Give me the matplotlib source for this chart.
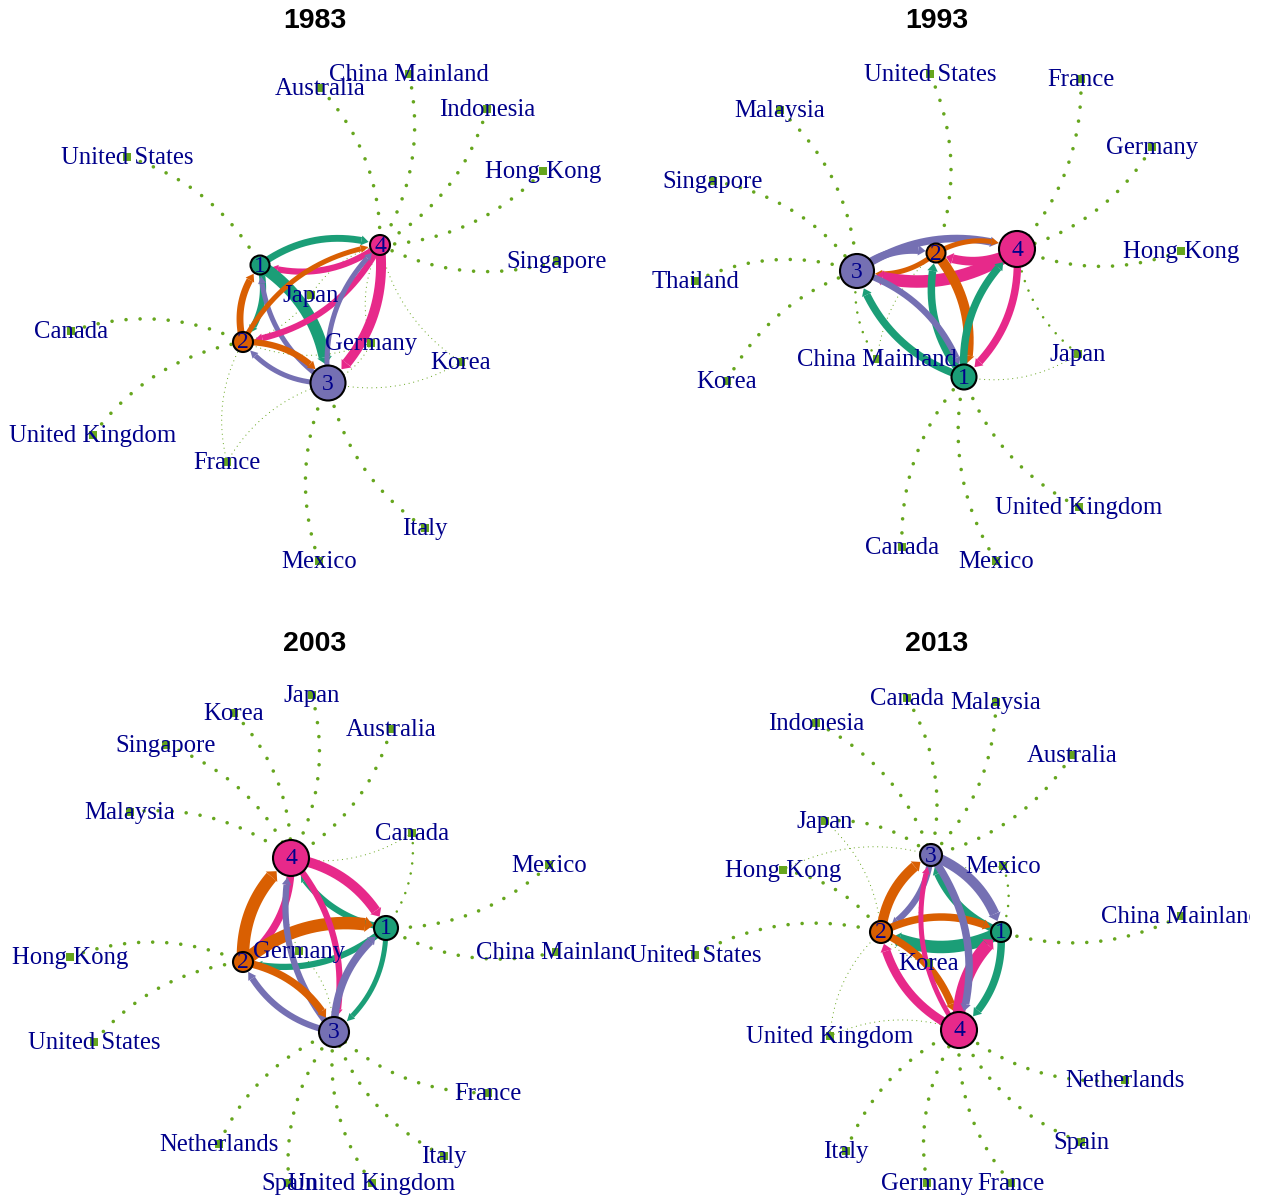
import numpy as np
import matplotlib.pyplot as plt
from matplotlib.patches import Circle, Polygon

# Dark2 colours for the four communities, green for the countries
hub_colors = ["#1B9E77", "#D95F02", "#7570B3", "#E7298A"]
country_color = "#66A61E"
label_color = "#00008B"

years = ["1983", "1993", "2003", "2013"]

# ---------------- 1983 ----------------
hubs_1983 = [(260, 265), (243, 342), (328, 383), (380, 245)]
hub_size_1983 = [9.5, 10, 17.5, 10]
countries_1983 = ["United States", "Australia", "China Mainland", "Indonesia", "Hong Kong",
                  "Singapore", "Canada", "Japan", "Germany", "Korea", "United Kingdom",
                  "France", "Italy", "Mexico"]
country_xy_1983 = [(127, 157), (320, 88), (409, 74), (487, 109), (543, 171), (557, 261),
                   (71, 331), (311, 295), (371, 343), (461, 362), (93, 435), (227, 462),
                   (425, 528), (319, 561)]
# (country, community, strength)
links_1983 = [("United States", 1, 3), ("Australia", 4, 3), ("China Mainland", 4, 3),
              ("Indonesia", 4, 3), ("Hong Kong", 4, 3), ("Singapore", 4, 3),
              ("Canada", 2, 3), ("United Kingdom", 2, 3), ("Japan", 4, 1), ("Japan", 2, 1),
              ("Germany", 3, 1), ("Germany", 2, 1), ("Germany", 4, 1), ("Korea", 3, 1),
              ("Korea", 4, 1), ("France", 2, 1), ("France", 3, 1), ("Italy", 3, 3),
              ("Mexico", 3, 3)]
# (from, to, width)
flows_1983 = [(1, 4, 5.5), (4, 1, 5), (1, 2, 5), (2, 1, 5.5), (1, 3, 9.5), (3, 1, 4),
              (2, 4, 4), (4, 2, 5), (2, 3, 5), (3, 2, 4), (3, 4, 4), (4, 3, 8)]

# ---------------- 1993 ----------------
hubs_1993 = [(964, 377), (936, 253), (857, 271), (1017, 249)]
hub_size_1993 = [12.5, 9.5, 17, 18]
countries_1993 = ["United States", "France", "Malaysia", "Germany", "Singapore", "Hong Kong",
                  "Thailand", "China Mainland", "Japan", "Korea", "United Kingdom", "Canada",
                  "Mexico"]
country_xy_1993 = [(930, 74), (1081, 79), (780, 110), (1152, 147), (713, 181), (1181, 251),
                   (695, 281), (877, 359), (1078, 354), (727, 381), (1079, 507), (902, 547),
                   (996, 561)]
links_1993 = [("United States", 2, 3), ("France", 4, 3), ("Germany", 4, 3), ("Hong Kong", 4, 3),
              ("Malaysia", 3, 3), ("Singapore", 3, 3), ("Thailand", 3, 3), ("Korea", 3, 3),
              ("China Mainland", 3, 2), ("China Mainland", 2, 1), ("Japan", 4, 2),
              ("Japan", 1, 1), ("United Kingdom", 1, 3), ("Canada", 1, 3), ("Mexico", 1, 3)]
flows_1993 = [(3, 2, 6), (2, 3, 4), (3, 4, 6), (4, 3, 10), (2, 4, 4), (4, 2, 7),
              (1, 2, 6), (2, 1, 8), (1, 3, 6), (3, 1, 5), (1, 4, 6), (4, 1, 6)]

# ---------------- 2003 ----------------
hubs_2003 = [(386, 928), (243, 962), (334, 1032), (291, 858)]
hub_size_2003 = [12, 10, 15, 18]
countries_2003 = ["Japan", "Korea", "Australia", "Singapore", "Malaysia", "Canada", "Mexico",
                  "China Mainland", "Hong Kong", "Germany", "United States", "France",
                  "Netherlands", "Italy", "Spain", "United Kingdom"]
country_xy_2003 = [(312, 695), (234, 713), (391, 729), (166, 745), (130, 812), (412, 833),
                   (549, 865), (556, 952), (70, 957), (299, 951), (94, 1042), (488, 1093),
                   (219, 1144), (444, 1156), (289, 1183), (372, 1183)]
links_2003 = [("Japan", 4, 3), ("Korea", 4, 3), ("Australia", 4, 3), ("Singapore", 4, 3),
              ("Malaysia", 4, 3), ("Canada", 4, 1), ("Canada", 1, 2), ("Mexico", 1, 3),
              ("China Mainland", 1, 3), ("Hong Kong", 2, 3), ("United States", 2, 3),
              ("Germany", 4, 1), ("Germany", 3, 1), ("France", 3, 3), ("Netherlands", 3, 3),
              ("Italy", 3, 3), ("Spain", 3, 3), ("United Kingdom", 3, 3)]
flows_2003 = [(2, 4, 10), (4, 2, 6), (4, 1, 8), (1, 4, 5), (2, 1, 10), (1, 2, 5),
              (4, 3, 5), (3, 4, 5), (2, 3, 6), (3, 2, 5), (1, 3, 4), (3, 1, 6)]

# ---------------- 2013 ----------------
hubs_2013 = [(1001, 932), (881, 932), (931, 855), (959, 1030)]
hub_size_2013 = [10, 11, 11, 18]
countries_2013 = ["Canada", "Malaysia", "Indonesia", "Australia", "Japan", "Mexico",
                  "Hong Kong", "China Mainland", "United States", "Korea", "United Kingdom",
                  "Netherlands", "Spain", "Italy", "Germany", "France"]
country_xy_2013 = [(907, 698), (996, 702), (816, 723), (1072, 755), (825, 821), (1003, 866),
                   (783, 870), (1181, 916), (695, 955), (929, 963), (830, 1036), (1125, 1080),
                   (1081, 1142), (846, 1151), (927, 1183), (1011, 1183)]
links_2013 = [("Canada", 3, 3), ("Malaysia", 3, 3), ("Indonesia", 3, 3), ("Australia", 3, 3),
              ("Japan", 3, 3), ("Japan", 2, 1), ("Hong Kong", 2, 3), ("Hong Kong", 3, 1),
              ("United States", 2, 3), ("China Mainland", 1, 3), ("Mexico", 1, 2),
              ("Mexico", 3, 1), ("Korea", 2, 1), ("Korea", 3, 1), ("United Kingdom", 2, 1),
              ("United Kingdom", 4, 1), ("Netherlands", 4, 3), ("Spain", 4, 3),
              ("Italy", 4, 3), ("Germany", 4, 3), ("France", 4, 3)]
flows_2013 = [(2, 3, 8), (3, 2, 5), (3, 1, 8), (1, 3, 6), (2, 1, 6), (1, 2, 10),
              (2, 4, 6), (4, 2, 7), (1, 4, 6), (4, 1, 10), (3, 4, 6), (4, 3, 4)]

panels = [
    (years[0], hubs_1983, hub_size_1983, countries_1983, country_xy_1983, links_1983, flows_1983),
    (years[1], hubs_1993, hub_size_1993, countries_1993, country_xy_1993, links_1993, flows_1993),
    (years[2], hubs_2003, hub_size_2003, countries_2003, country_xy_2003, links_2003, flows_2003),
    (years[3], hubs_2013, hub_size_2013, countries_2013, country_xy_2013, links_2013, flows_2013),
]

W, H = 1261, 1198
boxes = [(0, 0, 630, 610), (630, 0, 1250, 610), (0, 610, 630, 1198), (630, 610, 1250, 1198)]
title_xy = [(315, 21), (937, 21), (315, 644), (937, 644)]
PX = 0.72  # points per pixel at dpi 100


def curve(p0, p2, rad, n=160):
    p0 = np.asarray(p0, float)
    p2 = np.asarray(p2, float)
    d = p2 - p0
    c = (p0 + p2) / 2 + rad * np.array([d[1], -d[0]])
    t = np.linspace(0, 1, n)[:, None]
    return (1 - t) ** 2 * p0 + 2 * (1 - t) * t * c + t ** 2 * p2


fig = plt.figure(figsize=(W / 100, H / 100), dpi=100)

for (year, hubs, sizes, names, cxy, links, flows), box, txy in zip(panels, boxes, title_xy):
    x0, y0, x1, y1 = box
    ax = fig.add_axes([x0 / W, 1 - y1 / H, (x1 - x0) / W, (y1 - y0) / H])
    ax.set_xlim(x0, x1)
    ax.set_ylim(y1, y0)
    ax.axis("off")

    pos = dict(zip(names, cxy))

    # dotted membership links country -> community
    for name, hub, s in links:
        pts = curve(pos[name], hubs[hub - 1], 0.2)
        lw = {3: 3.6, 2: 2.6, 1: 1.2}[s]
        ax.plot(pts[:, 0], pts[:, 1], color=country_color, lw=lw * PX,
                linestyle=(0, (0.01, 3.9)), dash_capstyle="round", zorder=1)

    # flows between communities
    for a, b, w in flows:
        col = hub_colors[a - 1]
        w = w * 1.25
        tgt = np.array(hubs[b - 1], float)
        pts = curve(hubs[a - 1], tgt, 0.25)
        dist = np.hypot(*(pts - tgt).T)
        pts = pts[dist > sizes[b - 1] + 1]
        tip = pts[-1]
        head = 7
        back = np.hypot(*(pts - tip).T)
        i = np.where(back >= head)[0][-1]
        base = pts[i]
        ax.plot(pts[:i + 1, 0], pts[:i + 1, 1], color=col, lw=w * PX,
                solid_capstyle="butt", zorder=2)
        u = (tip - base) / np.hypot(*(tip - base))
        nrm = np.array([-u[1], u[0]])
        hw = w / 2 + 1.5
        tri = np.array([tip, base + nrm * hw, base - nrm * hw])
        ax.add_patch(Polygon(tri, closed=True, facecolor=col, edgecolor="none", zorder=2))

    # country vertices
    xs = [p[0] for p in cxy]
    ys = [p[1] for p in cxy]
    ax.scatter(xs, ys, marker="s", s=30, color=country_color, linewidths=0, zorder=3)

    # community vertices
    for k, ((hx, hy), r) in enumerate(zip(hubs, sizes)):
        ax.add_patch(Circle((hx, hy), r, facecolor=hub_colors[k], edgecolor="black",
                            lw=1.5, zorder=4))
        ax.text(hx, hy + 1, str(k + 1), ha="center", va="center", fontsize=17,
                family="Liberation Serif", color=label_color, zorder=5)

    for name, (px, py) in zip(names, cxy):
        ax.text(px, py + 1, name, ha="center", va="center", fontsize=17.8,
                family="Liberation Serif", color=label_color, zorder=5, clip_on=True)

    fig.text(txy[0] / W, 1 - txy[1] / H, year, ha="center", va="center", fontsize=20.5,
             fontweight="bold", family="Liberation Sans")

fig.savefig("out.png", dpi=100)
